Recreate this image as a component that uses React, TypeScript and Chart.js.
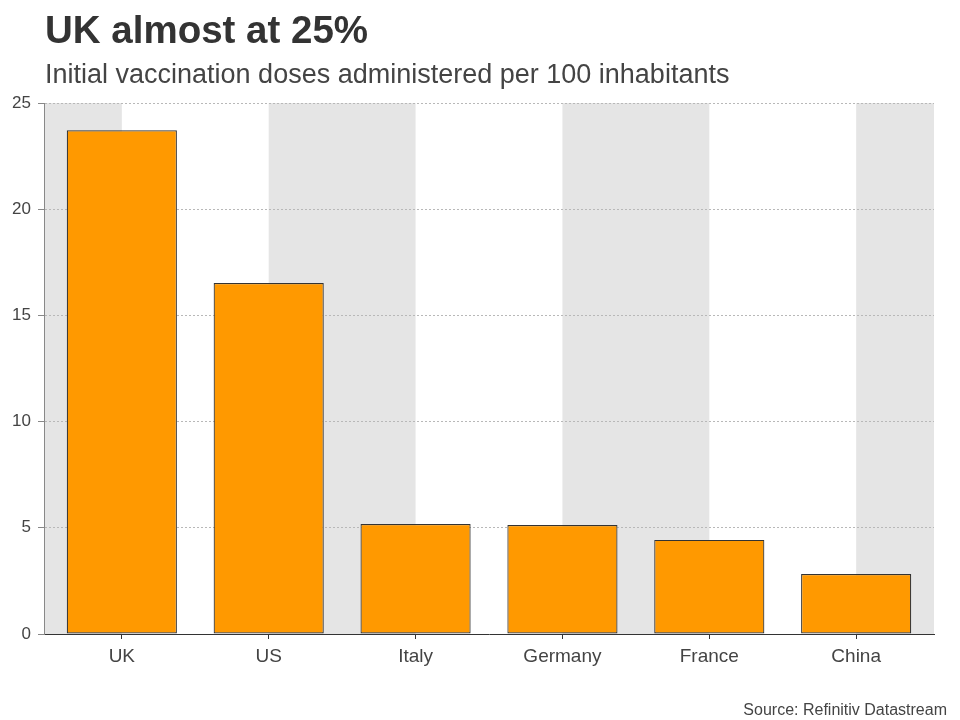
import { useEffect, useRef } from "react";
import { Chart, registerables } from "chart.js";

Chart.register(...registerables);

const categories = ["UK", "US", "Italy", "Germany", "France", "China"];
const doses = [23.72, 16.52, 5.18, 5.13, 4.43, 2.82];
const yMin = 0;
const yMax = 25;
const yStep = 5;

const FONT = "'Liberation Sans', Arial, Helvetica, sans-serif";

const bandsPlugin = {
  id: "bands",
  beforeDraw(chart: any) {
    const { ctx, chartArea, scales } = chart;
    const x = scales.x;
    const edges: number[] = [chartArea.left];
    categories.forEach((_, i) => edges.push(x.getPixelForValue(i)));
    edges.push(chartArea.right);
    ctx.save();
    ctx.fillStyle = "#e5e5e5";
    for (let i = 0; i < edges.length - 1; i += 2) {
      ctx.fillRect(edges[i], chartArea.top, edges[i + 1] - edges[i], chartArea.bottom - chartArea.top);
    }
    ctx.restore();
  },
};

export default function App() {
  const ref = useRef<HTMLCanvasElement>(null);

  useEffect(() => {
    if (!ref.current) return;
    const chart = new Chart(ref.current, {
      type: "bar",
      data: {
        datasets: [
          {
            data: doses.map((v, i) => ({ x: i, y: v })),
            backgroundColor: "#ff9900",
            borderColor: "#333333",
            borderWidth: 1.2,
            borderSkipped: false,
            categoryPercentage: 1,
            barPercentage: 0.75,
          },
        ],
      },
      options: {
        animation: false,
        responsive: false,
        layout: { padding: { top: 103, right: 26, left: 0, bottom: 0 } },
        plugins: {
          legend: { display: false },
          tooltip: { enabled: false },
        },
        scales: {
          x: {
            type: "linear",
            offset: false,
            min: -0.53,
            max: categories.length - 1 + 0.53,
            afterFit(axis: any) {
              axis.height = 86;
            },
            ticks: {
              stepSize: 1,
              includeBounds: false,
              autoSkip: false,
              maxRotation: 0,
              padding: 6,
              color: "#444444",
              font: { family: FONT, size: 19 },
              callback: (v: any) => categories[v] ?? "",
            },
            grid: {
              offset: false,
              drawOnChartArea: false,
              tickLength: 5,
              tickColor: "#333333",
              color: "#333333",
            },
            border: { color: "#333333", width: 1 },
          },
          y: {
            min: yMin,
            max: yMax,
            afterFit(axis: any) {
              axis.width = 44;
            },
            ticks: {
              stepSize: yStep,
              padding: 7,
              color: "#444444",
              font: { family: FONT, size: 17 },
            },
            grid: {
              color: (c: any) => (c.tick && c.tick.value === 0 ? "rgba(0,0,0,0)" : "#b8b8b8"),
              tickColor: "#888888",
              tickLength: 6,
              tickBorderDash: [],
            },
            border: { color: "#888888", width: 1, dash: [2, 2] },
          },
        },
      },
      plugins: [bandsPlugin],
    } as any);
    return () => chart.destroy();
  }, []);

  return (
    <div style={{ position: "fixed", left: 0, top: 0, width: 960, height: 720, background: "#fff", fontFamily: FONT }}>
      <canvas ref={ref} width={960} height={720} style={{ position: "absolute", left: 0, top: 0, width: 960, height: 720 }} />
      <div style={{ position: "absolute", left: 45, top: 11, fontSize: 38.5, lineHeight: 1, fontWeight: 700, color: "#333333", whiteSpace: "nowrap" }}>
        UK almost at 25%
      </div>
      <div style={{ position: "absolute", left: 45, top: 61, fontSize: 27, lineHeight: 1, color: "#444444", whiteSpace: "nowrap" }}>
        Initial vaccination doses administered per 100 inhabitants
      </div>
      <div style={{ position: "absolute", right: 13, top: 702, fontSize: 16, lineHeight: 1, color: "#444444", whiteSpace: "nowrap" }}>
        Source: Refinitiv Datastream
      </div>
    </div>
  );
}
